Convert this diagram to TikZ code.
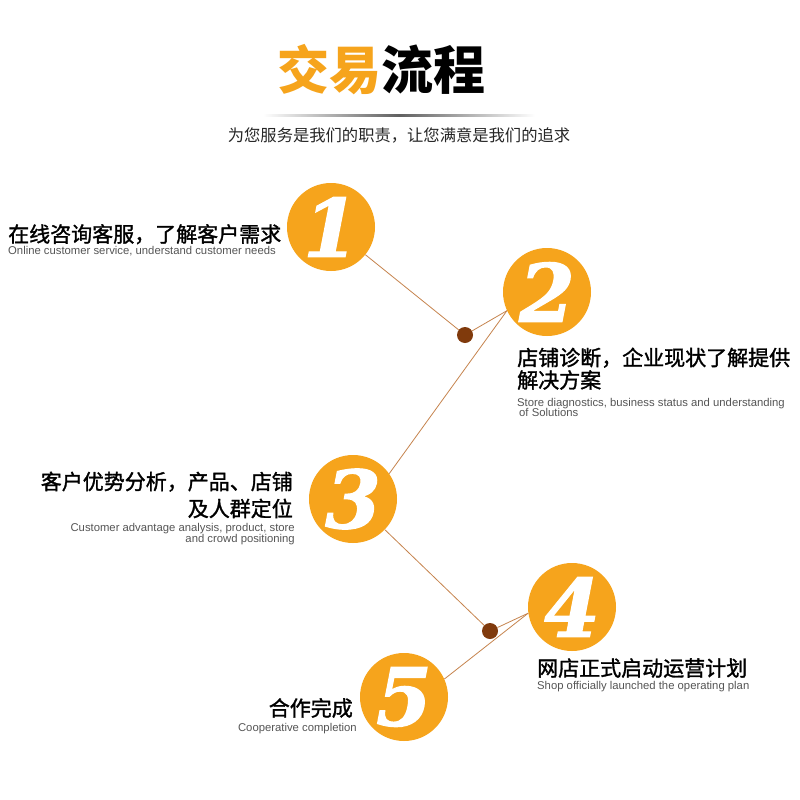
\documentclass[tikz,border=0pt]{standalone}
\usepackage{fontspec}
\usepackage{tikz}
\usetikzlibrary{positioning}
\newfontfamily\cjk{Noto Sans CJK SC}
\newfontfamily\cjkmid[FakeBold=1.4]{Noto Sans CJK SC}
\newfontfamily\latinsans{Liberation Sans}
\newfontfamily\numserif[FakeBold=1.5]{DejaVu Serif}
\definecolor{stepOrange}{RGB}{246,164,28}
\definecolor{linkBrown}{RGB}{198,132,78}
\definecolor{knotBrown}{RGB}{128,58,12}
\definecolor{noteGray}{RGB}{85,85,85}
\tikzset{
  stepdisc/.style={circle, fill=stepOrange, minimum size=88pt, inner sep=0pt,
                   text=white, font=\numserif\bfseries\itshape\fontsize{80}{80}\selectfont},
  knot/.style={circle, fill=knotBrown, minimum size=16pt, inner sep=0pt},
  link/.style={draw=linkBrown, line width=0.8pt},
  headcn/.style={inner sep=0pt, font=\cjkmid\fontsize{21}{21}\selectfont},
  noteen/.style={inner sep=0pt, text=noteGray,
                 font=\latinsans\fontsize{11.3}{11.3}\selectfont},
}

\begin{document}
\begin{tikzpicture}[x=1pt, y=-1pt]
  \fill[white] (0,0) rectangle (800,800);
  \useasboundingbox (0,0) rectangle (800,800);

  % ----- title -----
  \node[inner sep=0pt, anchor=base, font=\cjk\bfseries\fontsize{52}{52}\selectfont]
        (title) at (381,89) {\textcolor{stepOrange}{交易}流程};
  \shade[left color=white, right color=white, middle color=gray!75!black]
        (263,114) rectangle (535,116.5);                 % rule under title
  \node[inner sep=0pt, anchor=base, text=black!85, font=\cjk\fontsize{16.3}{16.3}\selectfont]
        (motto) at (399,141) {为您服务是我们的职责，让您满意是我们的追求};

  % ----- step discs -----
  \node[stepdisc] (c1) at (331,227) {1};
  \node[stepdisc] (c2) at (547,292) {2};
  \node[stepdisc] (c3) at (353,499) {3};
  \node[stepdisc] (c4) at (572,607) {4};
  \node[stepdisc] (c5) at (404,697) {5};
  \node[knot] (d1) at (465,335) {};
  \node[knot] (d2) at (490,631) {};

  % ----- links -----
  \draw[link] (c1) -- (d1) -- (c2.205);
  \draw[link] (c2.205) -- (c3.35);
  \draw[link] (c3) -- (d2) -- (c4.188);
  \draw[link] (c4.188) -- (c5.24);

  % ----- labels -----
  \node[headcn, anchor=base west] (t1) at (8,242) {在线咨询客服，了解客户需求};
  \node[noteen, anchor=base west] (e1) at (8,254.5)
        {Online customer service, understand customer needs};

  \node[headcn, anchor=base west] (t2a) at (517,365.5) {店铺诊断，企业现状了解提供};
  \node[headcn, anchor=base west] (t2b) at (517,388) {解决方案};
  \node[noteen, anchor=base west] (e2a) at (517,406)
        {Store diagnostics, business status and understanding};
  \node[noteen, anchor=base west] (e2b) at (519,416) {of Solutions};

  \node[headcn, anchor=base east] (t3a) at (293,489.5) {客户优势分析，产品、店铺};
  \node[headcn, anchor=base east] (t3b) at (293,516.5) {及人群定位};
  \node[noteen, anchor=base east] (e3a) at (295,531.5)
        {Customer advantage analysis, product, store};
  \node[noteen, anchor=base east] (e3b) at (295,542) {and crowd positioning};

  \node[headcn, anchor=base west] (t4) at (537,676) {网店正式启动运营计划};
  \node[noteen, anchor=base west] (e4) at (537,689)
        {Shop officially launched the operating plan};

  \node[headcn, anchor=base east] (t5) at (353,716) {合作完成};
  \node[noteen, anchor=base east] (e5) at (357,731.5) {Cooperative completion};
\end{tikzpicture}
\end{document}
